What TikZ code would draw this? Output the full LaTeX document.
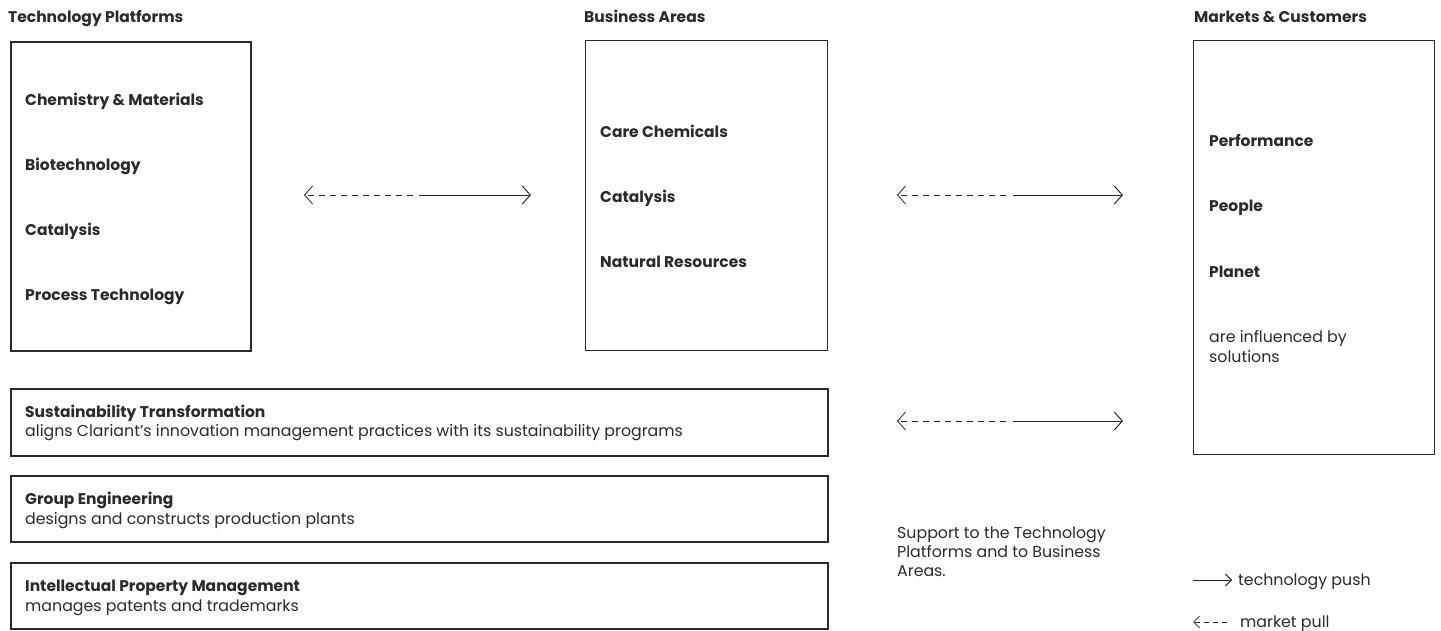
\documentclass[tikz,border=0pt]{standalone}
\usepackage{fontspec}
\setmainfont{Poppins}
\usetikzlibrary{arrows.meta}
\definecolor{ink}{HTML}{2A2A2A}
\begin{document}
\begin{tikzpicture}[x=1pt,y=-1pt,
  lbl/.style={anchor=base west, inner sep=0pt, text=ink, font=\fontsize{15.5}{17}\selectfont\bfseries},
  txt/.style={anchor=base west, inner sep=0pt, text=ink, font=\fontsize{15.8}{17}\selectfont},
  thickbox/.style={draw=ink, line width=2.6pt, anchor=north west, inner sep=0pt},
  thinbox/.style={draw=ink, line width=1pt, anchor=north west, inner sep=0pt},
  push/.style={draw=ink, line width=1pt, -{Straight Barb[length=8pt,width=18pt]}},
  pull/.style={draw=ink, line width=0.8pt, dash pattern=on 6pt off 5pt, -{Straight Barb[length=8pt,width=18pt]}},
  lpush/.style={draw=ink, line width=1pt, -{Straight Barb[length=6pt,width=12pt]}},
  lpull/.style={draw=ink, line width=0.8pt, dash pattern=on 5pt off 4pt, -{Straight Barb[length=6pt,width=12pt]}}]
\useasboundingbox (0,0) rectangle (1441,630);

% headers
\node[lbl] (h1) at (8,22) {Technology Platforms};
\node[lbl] (h2) at (584,22) {Business Areas};
\node[lbl] (h3) at (1194,22) {Markets \& Customers};

% top boxes
\node[thickbox, minimum width=240pt, minimum height=309pt] (tp) at (9.5,40.5) {};
\node[thinbox, minimum width=242pt, minimum height=310pt] (ba) at (585,40) {};
\node[thinbox, minimum width=241pt, minimum height=414pt] (mc) at (1193,40) {};

% technology platforms
\node[lbl] (tp1) at (25,105) {Chemistry \& Materials};
\node[lbl] (tp2) at (25,170) {Biotechnology};
\node[lbl] (tp3) at (25,235) {Catalysis};
\node[lbl] (tp4) at (25,300) {Process Technology};

% business areas
\node[lbl] (ba1) at (600,137) {Care Chemicals};
\node[lbl] (ba2) at (600,202) {Catalysis};
\node[lbl] (ba3) at (600,267) {Natural Resources};

% markets
\node[lbl] (mc1) at (1209,146) {Performance};
\node[lbl] (mc2) at (1209,211) {People};
\node[lbl] (mc3) at (1209,277) {Planet};
\node[txt] (mc4) at (1209,342) {are influenced by};
\node[txt] (mc5) at (1209,362) {solutions};

% lower boxes
\node[thickbox, minimum width=817pt, minimum height=67pt] (st) at (9.5,387.5) {};
\node[lbl] (st1) at (25,417) {Sustainability Transformation};
\node[txt] (st2) at (25,436) {aligns Clariant’s innovation management practices with its sustainability programs};

\node[thickbox, minimum width=817pt, minimum height=66pt] (ge) at (9.5,474.5) {};
\node[lbl] (ge1) at (25,504) {Group Engineering};
\node[txt] (ge2) at (25,524) {designs and constructs production plants};

\node[thickbox, minimum width=817pt, minimum height=66pt] (ip) at (9.5,561.5) {};
\node[lbl] (ip1) at (25,591) {Intellectual Property Management};
\node[txt] (ip2) at (25,611) {manages patents and trademarks};

% support text
\node[txt] (s1) at (897,538) {Support to the Technology};
\node[txt] (s2) at (897,557) {Platforms and to Business};
\node[txt] (s3) at (897,576) {Areas.};

% arrows
\coordinate (a1l) at (304,195); \coordinate (a1m) at (413,195);
\coordinate (a1n) at (419,195); \coordinate (a1r) at (531,195);
\draw[pull] (a1m) -- (a1l);
\draw[push] (a1n) -- (a1r);

\coordinate (a2l) at (897,195); \coordinate (a2m) at (1006,195);
\coordinate (a2n) at (1013,195); \coordinate (a2r) at (1123,195);
\draw[pull] (a2m) -- (a2l);
\draw[push] (a2n) -- (a2r);

\coordinate (a3l) at (897,421); \coordinate (a3m) at (1006,421);
\coordinate (a3n) at (1013,421); \coordinate (a3r) at (1123,421);
\draw[pull] (a3m) -- (a3l);
\draw[push] (a3n) -- (a3r);

% legend
\coordinate (l1a) at (1193,580); \coordinate (l1b) at (1232,580);
\draw[lpush] (l1a) -- (l1b);
\node[txt] (l1t) at (1238,585) {technology push};
\coordinate (l2a) at (1227,622); \coordinate (l2b) at (1193,622);
\draw[lpull] (l2a) -- (l2b);
\node[txt] (l2t) at (1240,627) {market pull};
\end{tikzpicture}
\end{document}
